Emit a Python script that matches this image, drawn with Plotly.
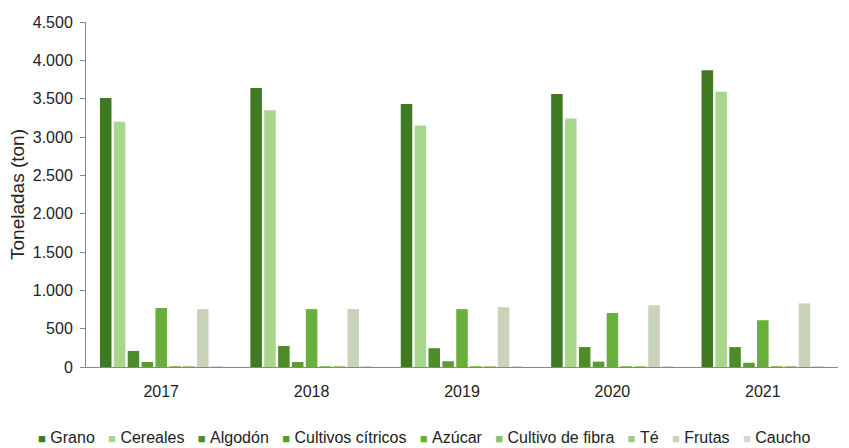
import plotly.graph_objects as go

years = ["2017", "2018", "2019", "2020", "2021"]

grano = [3510, 3640, 3430, 3560, 3870]
cereales = [3200, 3350, 3150, 3240, 3590]
algodon = [210, 275, 245, 260, 260]
citricos = [65, 65, 75, 70, 55]
azucar = [770, 755, 755, 705, 610]
fibra = [10, 10, 10, 10, 10]
te = [8, 8, 8, 8, 8]
frutas = [755, 755, 780, 805, 830]
caucho = [10, 10, 10, 10, 10]

series = [
    ("Grano", grano, "#3f7a22"),
    ("Cereales", cereales, "#a9d68d"),
    ("Algodón", algodon, "#4c8c2b"),
    ("Cultivos cítricos", citricos, "#5b9a34"),
    ("Azúcar", azucar, "#68b03a"),
    ("Cultivo de fibra", fibra, "#8dbe69"),
    ("Té", te, "#a7c78b"),
    ("Frutas", frutas, "#c9d3b9"),
    ("Caucho", caucho, "#d6d9cf"),
]

FONT = "Liberation Sans, Arial, sans-serif"

fig = go.Figure()
for name, vals, color in series:
    fig.add_trace(go.Bar(x=years, y=vals, name=name, marker_color=color,
                         marker_line_width=0, showlegend=False))

# Compact legend row: small coloured squares followed by the series name
legend_html = "&nbsp;&nbsp;&nbsp;".join(
    f"<span style='color:{color};font-size:13px'>■</span>&nbsp;{name}"
    for name, _, color in series
)
fig.add_annotation(text=legend_html, xref="paper", yref="paper",
                   x=0.45, xanchor="center", y=-0.205, yanchor="middle",
                   showarrow=False, font=dict(family=FONT, size=16, color="#222"))

ytick_vals = list(range(0, 4501, 500))
ytick_text = ["0" if v == 0 else f"{v:,}".replace(",", ".") for v in ytick_vals]

fig.update_layout(
    width=849, height=448,
    margin=dict(l=86, r=11, t=22, b=81),
    paper_bgcolor="white", plot_bgcolor="white",
    font=dict(family=FONT, size=16, color="#222"),
    barmode="group", bargap=0.17, bargroupgap=0.17,
    showlegend=False,
    xaxis=dict(showline=True, linecolor="#888", linewidth=1, ticks="",
               showgrid=False, tickfont=dict(size=16), ticklabelstandoff=10),
    yaxis=dict(range=[0, 4500], tickvals=ytick_vals, ticktext=ytick_text,
               showline=True, linecolor="#888", linewidth=1, ticks="outside",
               tickcolor="#888", ticklen=5, showgrid=False, zeroline=False,
               ticklabelstandoff=4,
               title=dict(text="Toneladas (ton)", font=dict(size=19), standoff=3),
               tickfont=dict(size=16)),
)

fig.write_html("out.html")
